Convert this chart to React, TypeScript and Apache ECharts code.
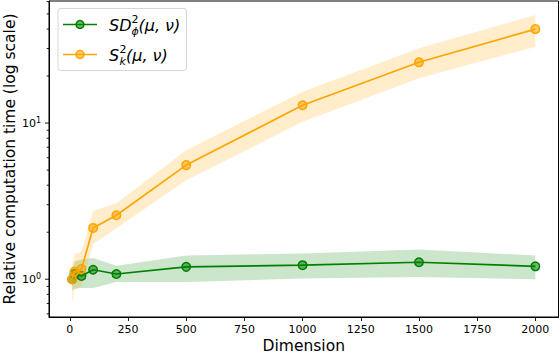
import React, { useEffect, useRef } from 'react';
import * as echarts from 'echarts';

const dimensions = [10, 20, 50, 100, 200, 500, 1000, 1500, 2000];
const sdValues = [1.0, 1.08, 1.05, 1.15, 1.08, 1.2, 1.23, 1.285, 1.21];
const sdLower = [0.85, 0.87, 0.88, 0.88, 0.96, 0.96, 1.01, 1.035, 1.0];
const sdUpper = [1.1, 1.3, 1.34, 1.37, 1.22, 1.42, 1.46, 1.55, 1.42];
const skValues = [1.0, 1.12, 1.16, 2.13, 2.57, 5.38, 13.0, 24.5, 40.0];
const skLower = [0.7, 0.86, 0.9, 1.68, 2.12, 4.3, 10.2, 19.4, 30.8];
const skUpper = [1.25, 1.45, 1.5, 2.75, 3.07, 6.7, 15.9, 30.1, 49.2];

const xTicks = [0, 250, 500, 750, 1000, 1250, 1500, 1750, 2000];
const yMajorTicks = [1, 10];
const yMinorTicks = [0.6, 0.7, 0.8, 0.9, 2, 3, 4, 5, 6, 7, 8, 9, 20, 30, 40, 50, 60];

const X_MIN = -89.5;
const X_MAX = 2099.5;
const Y_MIN = 0.573;
const Y_MAX = 60.5;

const FONT = 'DejaVu Sans';
const GREEN = '#008000';
const ORANGE = '#FFA500';

function bandSeries(lower: number[], upper: number[], fill: string, z: number) {
  return {
    type: 'custom',
    coordinateSystem: 'cartesian2d',
    silent: true,
    z,
    data: [[dimensions[0], lower[0]]],
    encode: { x: 0, y: 1 },
    renderItem: (_params: any, api: any) => {
      const pts: number[][] = [];
      for (let i = 0; i < dimensions.length; i++) pts.push(api.coord([dimensions[i], upper[i]]));
      for (let i = dimensions.length - 1; i >= 0; i--) pts.push(api.coord([dimensions[i], lower[i]]));
      return { type: 'polygon', shape: { points: pts }, style: { fill } };
    },
  };
}

function tickSeries(values: number[], len: number) {
  return {
    type: 'custom',
    coordinateSystem: 'cartesian2d',
    silent: true,
    clip: false,
    z: 10,
    data: values.map((v) => [X_MIN, v]),
    encode: { x: 0, y: 1 },
    renderItem: (_params: any, api: any) => {
      const p = api.coord([X_MIN, api.value(1)]);
      return {
        type: 'line',
        shape: { x1: p[0] - len, y1: p[1], x2: p[0], y2: p[1] },
        style: { stroke: '#000', lineWidth: 0.9 },
      };
    },
  };
}

function lineSeries(name: string, values: number[], color: string, fill: string, z: number) {
  return {
    type: 'line',
    name,
    z,
    data: dimensions.map((d, i) => [d, values[i]]),
    symbol: 'circle',
    symbolSize: 8.5,
    lineStyle: { color, width: 1.7 },
    itemStyle: { color: fill, borderColor: color, borderWidth: 1.5 },
  };
}

function legendEntry(y: number, color: string, fill: string, main: string, sup: string, sub: string, supX: number, restX: number) {
  return [
    { type: 'line', shape: { x1: 63, y1: y, x2: 97, y2: y }, style: { stroke: color, lineWidth: 1.7 } },
    { type: 'circle', shape: { cx: 80, cy: y, r: 4 }, style: { fill, stroke: color, lineWidth: 1.5 } },
    { type: 'text', x: 109, y: y + 1, style: { text: main, font: `italic 16px "${FONT}"`, fill: '#000', verticalAlign: 'middle', align: 'left' } },
    { type: 'text', x: supX, y: y - 5.5, style: { text: sup, font: `11px "${FONT}"`, fill: '#000', verticalAlign: 'middle', align: 'left' } },
    { type: 'text', x: supX, y: y + 6.5, style: { text: sub, font: `italic 11px "${FONT}"`, fill: '#000', verticalAlign: 'middle', align: 'left' } },
    { type: 'text', x: restX, y: y + 1, style: { text: '(μ, ν)', font: `italic 16px "${FONT}"`, fill: '#000', verticalAlign: 'middle', align: 'left' } },
  ];
}

export default function App() {
  const ref = useRef<HTMLDivElement>(null);
  useEffect(() => {
    if (!ref.current) return;
    const chart = echarts.init(ref.current, undefined, { renderer: 'svg' });
    const option: any = {
      animation: false,
      backgroundColor: '#fff',
      grid: {
        left: 49,
        right: 1.5,
        top: 1,
        bottom: 37,
        containLabel: false,
        outerBoundsMode: 'none',
        show: true,
        borderColor: '#000',
        borderWidth: 1,
        backgroundColor: 'transparent',
      },
      xAxis: {
        type: 'value',
        min: X_MIN,
        max: X_MAX,
        name: 'Dimension',
        nameLocation: 'middle',
        nameGap: 21,
        nameMoveOverlap: false,
        nameTextStyle: { fontFamily: FONT, fontSize: 15.5, color: '#000' },
        axisLine: { show: true, onZero: false, lineStyle: { color: '#000', width: 1 } },
        axisTick: { show: true, customValues: xTicks, length: 4, lineStyle: { color: '#000', width: 0.9 } },
        axisLabel: {
          customValues: xTicks,
          margin: 7,
          fontFamily: FONT,
          fontSize: 11,
          color: '#000',
          formatter: (v: number) => String(Math.round(v)),
        },
        splitLine: { show: false },
      },
      yAxis: {
        type: 'log',
        logBase: 10,
        min: Y_MIN,
        max: Y_MAX,
        name: 'Relative computation time (log scale)',
        nameLocation: 'middle',
        nameGap: 31,
        nameMoveOverlap: false,
        nameTextStyle: { fontFamily: FONT, fontSize: 15.5, color: '#000' },
        axisLine: { show: true, onZero: false, lineStyle: { color: '#000', width: 1 } },
        axisTick: { show: false },
        axisLabel: {
          margin: 8,
          formatter: (v: number) => {
            const e = Math.log10(v);
            const r = Math.round(e);
            if (Math.abs(e - r) < 1e-6 && yMajorTicks.includes(Math.pow(10, r))) return `{b|10}{s|${r}}`;
            return '';
          },
          rich: {
            b: { fontFamily: FONT, fontSize: 11, color: '#000', lineHeight: 14 },
            s: { fontFamily: FONT, fontSize: 8, color: '#000', verticalAlign: 'top', lineHeight: 10 },
          },
        },
        splitLine: { show: false },
        minorTick: { show: false },
      },
      series: [
        bandSeries(sdLower, sdUpper, 'rgba(0,128,0,0.2)', 1),
        lineSeries('SD', sdValues, GREEN, 'rgba(0,128,0,0.55)', 3),
        bandSeries(skLower, skUpper, 'rgba(255,165,0,0.2)', 2),
        lineSeries('S', skValues, ORANGE, 'rgba(255,165,0,0.55)', 4),
        tickSeries(yMajorTicks, 4),
        tickSeries(yMinorTicks, 2.3),
      ],
      graphic: [
        {
          type: 'group',
          z: 100,
          children: [
            { type: 'rect', shape: { x: 58, y: 8.5, width: 128.5, height: 62, r: 2.5 }, style: { fill: 'rgba(255,255,255,0.8)', stroke: '#d6d6d6', lineWidth: 1 } },
            ...legendEntry(24.5, GREEN, 'rgba(0,128,0,0.55)', 'SD', '2', 'ϕ', 131.5, 138.5),
            ...legendEntry(54.5, ORANGE, 'rgba(255,165,0,0.55)', 'S', '2', 'k', 119.5, 126),
          ],
        },
      ],
    };
    chart.setOption(option);
    return () => chart.dispose();
  }, []);
  return <div ref={ref} style={{ position: 'fixed', left: 0, top: 0, width: 560, height: 354 }} />;
}
